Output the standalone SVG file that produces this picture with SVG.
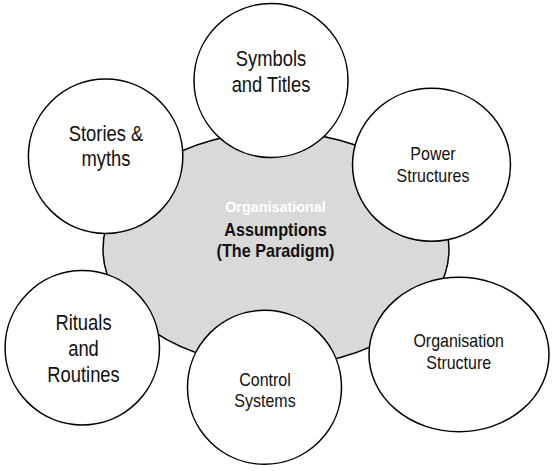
<svg xmlns="http://www.w3.org/2000/svg" width="553" height="471" viewBox="0 0 553 471">
<style>
.bg{fill:#ffffff}
.core{fill:#d9d9d9;stroke:#000;stroke-width:1.5}
.node{fill:#ffffff;stroke:#000;stroke-width:1.5}
text{font-family:"Liberation Sans",Arial,sans-serif;text-anchor:middle;fill:#111}
.l{font-size:18.4px}
.m{font-size:16px}
.b{font-weight:bold;font-size:16.2px}
.w{font-weight:bold;font-size:14.4px;fill:#ffffff}
</style>
<rect class="bg" x="0" y="0" width="553" height="471"/>
<g id="connectors"></g>
<g id="paradigm">
<ellipse class="core" cx="276" cy="249" rx="173" ry="117"/>
<text class="w" transform="translate(275.5,211.7) scale(1,1.08)">Organisational</text>
<text class="b" transform="translate(275.5,235.7) scale(1,1.12)">Assumptions</text>
<text class="b" transform="translate(275.5,257.3) scale(1,1.12)">(The Paradigm)</text>
</g>
<g id="symbols">
<circle class="node" cx="271" cy="80.5" r="77"/>
<text class="l" transform="translate(271,66) scale(1,1.15)">Symbols</text>
<text class="l" transform="translate(271,91.5) scale(1,1.15)">and Titles</text>
</g>
<g id="stories">
<circle class="node" cx="105.6" cy="156.3" r="77.2"/>
<text class="l" transform="translate(106,141) scale(1,1.15)">Stories &amp;</text>
<text class="l" transform="translate(106,166) scale(1,1.15)">myths</text>
</g>
<g id="power">
<ellipse class="node" cx="431.5" cy="164.8" rx="79" ry="76.5"/>
<text class="m" transform="translate(433,159.5) scale(1,1.2)">Power</text>
<text class="m" transform="translate(433,181.5) scale(1,1.2)">Structures</text>
</g>
<g id="rituals">
<circle class="node" cx="82.3" cy="347.8" r="77.2"/>
<text class="l" transform="translate(83.5,330) scale(1,1.15)">Rituals</text>
<text class="l" transform="translate(83.5,356) scale(1,1.15)">and</text>
<text class="l" transform="translate(83.5,382) scale(1,1.15)">Routines</text>
</g>
<g id="orgstructure">
<ellipse class="node" cx="459" cy="354.5" rx="90" ry="77.3"/>
<text class="m" transform="translate(458.7,347.3) scale(1,1.2)">Organisation</text>
<text class="m" transform="translate(458.7,368.5) scale(1,1.2)">Structure</text>
</g>
<g id="control">
<circle class="node" cx="264.5" cy="387.3" r="77"/>
<text class="m" transform="translate(265,385.7) scale(1,1.2)">Control</text>
<text class="m" transform="translate(265,406.7) scale(1,1.2)">Systems</text>
</g>
</svg>
